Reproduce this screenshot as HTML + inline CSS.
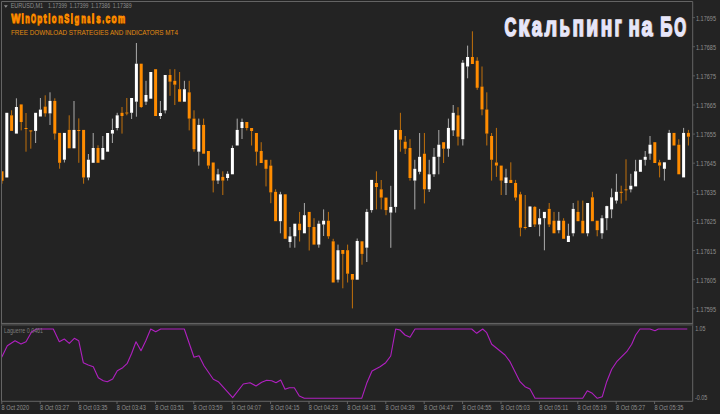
<!DOCTYPE html>
<html><head><meta charset="utf-8">
<style>
html,body{margin:0;padding:0;background:#232323;width:720px;height:414px;overflow:hidden}
svg{display:block}
text{font-family:"Liberation Sans",sans-serif}
.ax{font-size:6.8px;fill:#8e8e8e}
</style></head><body>
<svg width="720" height="414" viewBox="0 0 720 414">
<rect width="720" height="414" fill="#232323"/>
<clipPath id="cc"><rect x="2" y="2" width="690" height="320"/></clipPath>
<g clip-path="url(#cc)">
<rect x="1.50" y="180.80" width="1" height="2.90" fill="#c0700c"/>
<rect x="11.10" y="110.30" width="1" height="5.00" fill="#c0700c"/>
<rect x="15.90" y="98.30" width="1" height="8.70" fill="#ababab"/>
<rect x="20.70" y="122.00" width="1" height="8.40" fill="#c0700c"/>
<rect x="25.50" y="113.00" width="1" height="15.00" fill="#c0700c"/>
<rect x="25.50" y="128.50" width="1" height="23.20" fill="#c0700c"/>
<rect x="30.30" y="131.00" width="1" height="17.70" fill="#c0700c"/>
<rect x="35.10" y="130.90" width="1" height="12.10" fill="#ababab"/>
<rect x="39.90" y="98.00" width="1" height="11.60" fill="#ababab"/>
<rect x="44.70" y="95.30" width="1" height="11.30" fill="#c0700c"/>
<rect x="44.70" y="113.40" width="1" height="3.30" fill="#c0700c"/>
<rect x="49.50" y="92.30" width="1" height="8.60" fill="#ababab"/>
<rect x="49.50" y="113.40" width="1" height="11.60" fill="#ababab"/>
<rect x="54.30" y="98.30" width="1" height="2.60" fill="#c0700c"/>
<rect x="54.30" y="133.60" width="1" height="6.10" fill="#c0700c"/>
<rect x="59.10" y="162.80" width="1" height="5.90" fill="#c0700c"/>
<rect x="63.90" y="159.70" width="1" height="2.80" fill="#ababab"/>
<rect x="68.70" y="115.30" width="1" height="14.60" fill="#c0700c"/>
<rect x="73.50" y="101.00" width="1" height="28.90" fill="#ababab"/>
<rect x="78.30" y="118.40" width="1" height="11.60" fill="#c0700c"/>
<rect x="78.30" y="130.50" width="1" height="32.30" fill="#c0700c"/>
<rect x="83.10" y="177.50" width="1" height="6.20" fill="#c0700c"/>
<rect x="87.90" y="154.00" width="1" height="5.70" fill="#ababab"/>
<rect x="87.90" y="177.50" width="1" height="2.80" fill="#ababab"/>
<rect x="92.70" y="133.00" width="1" height="15.00" fill="#ababab"/>
<rect x="97.50" y="145.30" width="1" height="2.70" fill="#c0700c"/>
<rect x="102.30" y="136.00" width="1" height="12.00" fill="#ababab"/>
<rect x="111.90" y="118.60" width="1" height="11.40" fill="#ababab"/>
<rect x="111.90" y="133.60" width="1" height="9.40" fill="#ababab"/>
<rect x="116.70" y="112.80" width="1" height="2.50" fill="#ababab"/>
<rect x="116.70" y="128.00" width="1" height="2.40" fill="#ababab"/>
<rect x="121.50" y="107.00" width="1" height="5.80" fill="#c0700c"/>
<rect x="121.50" y="116.00" width="1" height="17.60" fill="#c0700c"/>
<rect x="126.30" y="98.00" width="1" height="14.50" fill="#c0700c"/>
<rect x="126.30" y="113.50" width="1" height="1.80" fill="#c0700c"/>
<rect x="131.10" y="112.80" width="1" height="6.20" fill="#ababab"/>
<rect x="135.90" y="43.00" width="1" height="20.70" fill="#ababab"/>
<rect x="135.90" y="101.70" width="1" height="15.00" fill="#ababab"/>
<rect x="140.70" y="107.00" width="1" height="1.00" fill="#c0700c"/>
<rect x="145.50" y="80.80" width="1" height="14.20" fill="#ababab"/>
<rect x="145.50" y="101.70" width="1" height="3.30" fill="#ababab"/>
<rect x="159.90" y="101.00" width="1" height="12.00" fill="#ababab"/>
<rect x="159.90" y="116.00" width="1" height="3.00" fill="#ababab"/>
<rect x="164.70" y="110.40" width="1" height="3.00" fill="#ababab"/>
<rect x="169.50" y="69.20" width="1" height="5.80" fill="#c0700c"/>
<rect x="169.50" y="81.70" width="1" height="14.10" fill="#c0700c"/>
<rect x="174.30" y="69.20" width="1" height="11.60" fill="#c0700c"/>
<rect x="174.30" y="84.70" width="1" height="20.30" fill="#c0700c"/>
<rect x="179.10" y="72.00" width="1" height="17.20" fill="#c0700c"/>
<rect x="183.90" y="80.80" width="1" height="8.40" fill="#ababab"/>
<rect x="188.70" y="80.80" width="1" height="11.50" fill="#c0700c"/>
<rect x="188.70" y="118.60" width="1" height="11.80" fill="#c0700c"/>
<rect x="193.50" y="110.30" width="1" height="8.30" fill="#c0700c"/>
<rect x="193.50" y="149.20" width="1" height="2.50" fill="#c0700c"/>
<rect x="198.30" y="118.60" width="1" height="6.30" fill="#ababab"/>
<rect x="198.30" y="151.70" width="1" height="13.90" fill="#ababab"/>
<rect x="203.10" y="118.60" width="1" height="6.30" fill="#c0700c"/>
<rect x="207.90" y="165.60" width="1" height="3.20" fill="#c0700c"/>
<rect x="212.70" y="180.60" width="1" height="11.80" fill="#c0700c"/>
<rect x="217.50" y="168.80" width="1" height="5.50" fill="#ababab"/>
<rect x="217.50" y="180.60" width="1" height="3.40" fill="#ababab"/>
<rect x="222.30" y="171.30" width="1" height="5.60" fill="#c0700c"/>
<rect x="222.30" y="180.60" width="1" height="14.40" fill="#c0700c"/>
<rect x="227.10" y="171.30" width="1" height="2.50" fill="#ababab"/>
<rect x="227.10" y="178.00" width="1" height="2.60" fill="#ababab"/>
<rect x="231.90" y="145.50" width="1" height="2.50" fill="#ababab"/>
<rect x="236.70" y="118.60" width="1" height="11.30" fill="#ababab"/>
<rect x="241.50" y="118.60" width="1" height="3.40" fill="#ababab"/>
<rect x="241.50" y="128.00" width="1" height="11.00" fill="#ababab"/>
<rect x="246.30" y="128.00" width="1" height="2.40" fill="#c0700c"/>
<rect x="251.10" y="131.00" width="1" height="14.50" fill="#c0700c"/>
<rect x="255.90" y="151.70" width="1" height="13.90" fill="#c0700c"/>
<rect x="260.70" y="142.20" width="1" height="8.80" fill="#c0700c"/>
<rect x="265.50" y="168.80" width="1" height="17.60" fill="#c0700c"/>
<rect x="270.30" y="159.80" width="1" height="5.80" fill="#c0700c"/>
<rect x="270.30" y="192.40" width="1" height="10.80" fill="#c0700c"/>
<rect x="275.10" y="189.30" width="1" height="2.50" fill="#c0700c"/>
<rect x="279.90" y="191.80" width="1" height="2.50" fill="#ababab"/>
<rect x="279.90" y="221.20" width="1" height="12.10" fill="#ababab"/>
<rect x="289.50" y="227.00" width="1" height="9.30" fill="#ababab"/>
<rect x="289.50" y="242.00" width="1" height="5.70" fill="#ababab"/>
<rect x="294.30" y="236.30" width="1" height="11.40" fill="#ababab"/>
<rect x="299.10" y="211.90" width="1" height="11.80" fill="#c0700c"/>
<rect x="299.10" y="230.20" width="1" height="11.30" fill="#c0700c"/>
<rect x="303.90" y="203.00" width="1" height="12.20" fill="#ababab"/>
<rect x="308.70" y="227.00" width="1" height="23.50" fill="#c0700c"/>
<rect x="313.50" y="218.20" width="1" height="8.80" fill="#c0700c"/>
<rect x="318.30" y="220.70" width="1" height="3.00" fill="#ababab"/>
<rect x="318.30" y="244.60" width="1" height="3.10" fill="#ababab"/>
<rect x="323.10" y="209.40" width="1" height="11.30" fill="#ababab"/>
<rect x="323.10" y="224.50" width="1" height="11.50" fill="#ababab"/>
<rect x="327.90" y="211.90" width="1" height="8.80" fill="#c0700c"/>
<rect x="327.90" y="236.30" width="1" height="2.50" fill="#c0700c"/>
<rect x="332.70" y="238.80" width="1" height="2.50" fill="#c0700c"/>
<rect x="337.50" y="244.60" width="1" height="5.60" fill="#ababab"/>
<rect x="337.50" y="279.70" width="1" height="2.80" fill="#ababab"/>
<rect x="342.30" y="253.90" width="1" height="34.40" fill="#c0700c"/>
<rect x="347.10" y="244.60" width="1" height="5.60" fill="#c0700c"/>
<rect x="347.10" y="273.70" width="1" height="8.80" fill="#c0700c"/>
<rect x="351.90" y="279.70" width="1" height="28.70" fill="#c0700c"/>
<rect x="356.70" y="238.50" width="1" height="2.50" fill="#ababab"/>
<rect x="361.50" y="253.90" width="1" height="10.80" fill="#c0700c"/>
<rect x="366.30" y="208.90" width="1" height="3.00" fill="#ababab"/>
<rect x="366.30" y="247.70" width="1" height="14.30" fill="#ababab"/>
<rect x="371.10" y="210.10" width="1" height="2.50" fill="#ababab"/>
<rect x="375.90" y="171.30" width="1" height="11.70" fill="#c0700c"/>
<rect x="375.90" y="187.00" width="1" height="22.40" fill="#c0700c"/>
<rect x="380.70" y="180.00" width="1" height="9.30" fill="#c0700c"/>
<rect x="380.70" y="197.60" width="1" height="11.80" fill="#c0700c"/>
<rect x="385.50" y="210.10" width="1" height="5.10" fill="#c0700c"/>
<rect x="390.30" y="185.80" width="1" height="21.10" fill="#ababab"/>
<rect x="390.30" y="212.60" width="1" height="35.20" fill="#ababab"/>
<rect x="395.10" y="206.90" width="1" height="5.70" fill="#ababab"/>
<rect x="399.90" y="112.80" width="1" height="17.20" fill="#c0700c"/>
<rect x="399.90" y="139.70" width="1" height="12.00" fill="#c0700c"/>
<rect x="404.70" y="136.00" width="1" height="5.70" fill="#c0700c"/>
<rect x="404.70" y="148.70" width="1" height="5.30" fill="#c0700c"/>
<rect x="409.50" y="139.20" width="1" height="8.80" fill="#c0700c"/>
<rect x="409.50" y="178.00" width="1" height="2.60" fill="#c0700c"/>
<rect x="414.30" y="159.80" width="1" height="9.00" fill="#ababab"/>
<rect x="414.30" y="180.60" width="1" height="28.80" fill="#ababab"/>
<rect x="419.10" y="133.00" width="1" height="23.80" fill="#ababab"/>
<rect x="419.10" y="171.80" width="1" height="2.50" fill="#ababab"/>
<rect x="423.90" y="133.00" width="1" height="20.70" fill="#c0700c"/>
<rect x="423.90" y="189.30" width="1" height="14.10" fill="#c0700c"/>
<rect x="428.70" y="159.80" width="1" height="14.50" fill="#ababab"/>
<rect x="428.70" y="189.30" width="1" height="2.70" fill="#ababab"/>
<rect x="433.50" y="148.00" width="1" height="8.80" fill="#ababab"/>
<rect x="433.50" y="174.30" width="1" height="2.60" fill="#ababab"/>
<rect x="438.30" y="130.00" width="1" height="14.70" fill="#ababab"/>
<rect x="438.30" y="156.80" width="1" height="17.50" fill="#ababab"/>
<rect x="443.10" y="148.70" width="1" height="14.30" fill="#c0700c"/>
<rect x="447.90" y="118.60" width="1" height="9.30" fill="#ababab"/>
<rect x="447.90" y="148.70" width="1" height="8.10" fill="#ababab"/>
<rect x="452.70" y="105.00" width="1" height="7.80" fill="#ababab"/>
<rect x="452.70" y="130.40" width="1" height="5.60" fill="#ababab"/>
<rect x="457.50" y="107.20" width="1" height="8.10" fill="#c0700c"/>
<rect x="457.50" y="136.70" width="1" height="8.80" fill="#c0700c"/>
<rect x="462.30" y="60.00" width="1" height="2.70" fill="#ababab"/>
<rect x="462.30" y="139.20" width="1" height="6.30" fill="#ababab"/>
<rect x="467.10" y="45.60" width="1" height="11.40" fill="#ababab"/>
<rect x="467.10" y="66.50" width="1" height="11.80" fill="#ababab"/>
<rect x="471.90" y="31.30" width="1" height="25.70" fill="#c0700c"/>
<rect x="476.70" y="57.20" width="1" height="3.50" fill="#c0700c"/>
<rect x="476.70" y="87.80" width="1" height="2.00" fill="#c0700c"/>
<rect x="481.50" y="66.50" width="1" height="20.10" fill="#c0700c"/>
<rect x="481.50" y="109.50" width="1" height="5.80" fill="#c0700c"/>
<rect x="486.30" y="92.30" width="1" height="17.20" fill="#c0700c"/>
<rect x="486.30" y="133.60" width="1" height="11.90" fill="#c0700c"/>
<rect x="491.10" y="133.00" width="1" height="3.00" fill="#c0700c"/>
<rect x="491.10" y="159.80" width="1" height="20.80" fill="#c0700c"/>
<rect x="495.90" y="127.90" width="1" height="34.60" fill="#c0700c"/>
<rect x="495.90" y="165.60" width="1" height="11.30" fill="#c0700c"/>
<rect x="500.70" y="180.60" width="1" height="14.40" fill="#c0700c"/>
<rect x="505.50" y="168.80" width="1" height="8.60" fill="#ababab"/>
<rect x="505.50" y="183.00" width="1" height="12.00" fill="#ababab"/>
<rect x="510.30" y="162.30" width="1" height="17.60" fill="#c0700c"/>
<rect x="515.10" y="179.90" width="1" height="3.10" fill="#c0700c"/>
<rect x="515.10" y="197.60" width="1" height="3.00" fill="#c0700c"/>
<rect x="519.90" y="191.80" width="1" height="2.50" fill="#c0700c"/>
<rect x="519.90" y="227.70" width="1" height="8.60" fill="#c0700c"/>
<rect x="524.70" y="195.00" width="1" height="32.00" fill="#c0700c"/>
<rect x="524.70" y="227.50" width="1" height="2.00" fill="#c0700c"/>
<rect x="529.50" y="206.00" width="1" height="0.50" fill="#ababab"/>
<rect x="534.30" y="206.00" width="1" height="0.90" fill="#c0700c"/>
<rect x="534.30" y="224.50" width="1" height="2.50" fill="#c0700c"/>
<rect x="539.10" y="208.90" width="1" height="9.30" fill="#ababab"/>
<rect x="539.10" y="224.50" width="1" height="11.80" fill="#ababab"/>
<rect x="543.90" y="218.20" width="1" height="32.10" fill="#ababab"/>
<rect x="548.70" y="203.00" width="1" height="5.90" fill="#c0700c"/>
<rect x="548.70" y="224.50" width="1" height="2.50" fill="#c0700c"/>
<rect x="553.50" y="211.90" width="1" height="8.80" fill="#c0700c"/>
<rect x="558.30" y="211.90" width="1" height="8.80" fill="#ababab"/>
<rect x="558.30" y="230.20" width="1" height="3.10" fill="#ababab"/>
<rect x="563.10" y="218.20" width="1" height="2.50" fill="#c0700c"/>
<rect x="567.90" y="223.70" width="1" height="12.10" fill="#ababab"/>
<rect x="572.70" y="203.00" width="1" height="5.90" fill="#ababab"/>
<rect x="572.70" y="233.30" width="1" height="3.00" fill="#ababab"/>
<rect x="577.50" y="200.60" width="1" height="11.30" fill="#c0700c"/>
<rect x="582.30" y="200.60" width="1" height="20.10" fill="#c0700c"/>
<rect x="587.10" y="233.30" width="1" height="3.00" fill="#ababab"/>
<rect x="591.90" y="191.80" width="1" height="5.50" fill="#c0700c"/>
<rect x="596.70" y="230.20" width="1" height="6.10" fill="#c0700c"/>
<rect x="601.50" y="215.20" width="1" height="3.00" fill="#ababab"/>
<rect x="601.50" y="233.30" width="1" height="5.50" fill="#ababab"/>
<rect x="606.30" y="205.70" width="1" height="0.40" fill="#ababab"/>
<rect x="606.30" y="218.20" width="1" height="12.00" fill="#ababab"/>
<rect x="611.10" y="188.50" width="1" height="8.80" fill="#ababab"/>
<rect x="611.10" y="209.40" width="1" height="8.80" fill="#ababab"/>
<rect x="615.90" y="173.80" width="1" height="18.00" fill="#ababab"/>
<rect x="615.90" y="200.60" width="1" height="3.00" fill="#ababab"/>
<rect x="620.70" y="185.70" width="1" height="6.10" fill="#c0700c"/>
<rect x="620.70" y="192.40" width="1" height="11.20" fill="#c0700c"/>
<rect x="625.50" y="159.30" width="1" height="30.00" fill="#c0700c"/>
<rect x="625.50" y="189.80" width="1" height="10.80" fill="#c0700c"/>
<rect x="630.30" y="173.80" width="1" height="11.90" fill="#ababab"/>
<rect x="630.30" y="189.40" width="1" height="3.00" fill="#ababab"/>
<rect x="635.10" y="159.80" width="1" height="11.50" fill="#ababab"/>
<rect x="644.70" y="151.00" width="1" height="5.80" fill="#ababab"/>
<rect x="644.70" y="159.80" width="1" height="5.80" fill="#ababab"/>
<rect x="649.50" y="136.00" width="1" height="8.70" fill="#ababab"/>
<rect x="649.50" y="153.70" width="1" height="6.10" fill="#ababab"/>
<rect x="659.10" y="159.80" width="1" height="2.50" fill="#c0700c"/>
<rect x="659.10" y="165.60" width="1" height="11.80" fill="#c0700c"/>
<rect x="663.90" y="168.80" width="1" height="11.80" fill="#ababab"/>
<rect x="668.70" y="129.90" width="1" height="3.00" fill="#ababab"/>
<rect x="678.30" y="139.20" width="1" height="5.50" fill="#c0700c"/>
<rect x="683.10" y="127.90" width="1" height="5.00" fill="#ababab"/>
<rect x="687.90" y="129.90" width="1" height="3.00" fill="#c0700c"/>
<rect x="687.90" y="136.70" width="1" height="8.80" fill="#c0700c"/>
<rect x="0.50" y="171.30" width="3.0" height="9.50" fill="#ff8c00"/>
<rect x="5.30" y="112.80" width="3.0" height="64.70" fill="#ffffff"/>
<rect x="10.10" y="115.30" width="3.0" height="15.60" fill="#ff8c00"/>
<rect x="14.90" y="107.00" width="3.0" height="26.60" fill="#ffffff"/>
<rect x="19.70" y="104.40" width="3.0" height="17.60" fill="#ff8c00"/>
<rect x="24.50" y="128.00" width="3.0" height="1.00" fill="#ff8c00"/>
<rect x="29.30" y="130.40" width="3.0" height="1.00" fill="#ff8c00"/>
<rect x="34.10" y="112.80" width="3.0" height="18.10" fill="#ffffff"/>
<rect x="38.90" y="109.60" width="3.0" height="6.90" fill="#ffffff"/>
<rect x="43.70" y="106.60" width="3.0" height="6.80" fill="#ff8c00"/>
<rect x="48.50" y="100.90" width="3.0" height="12.50" fill="#ffffff"/>
<rect x="53.30" y="100.90" width="3.0" height="32.70" fill="#ff8c00"/>
<rect x="58.10" y="132.90" width="3.0" height="29.90" fill="#ff8c00"/>
<rect x="62.90" y="132.90" width="3.0" height="26.80" fill="#ffffff"/>
<rect x="67.70" y="129.90" width="3.0" height="18.40" fill="#ff8c00"/>
<rect x="72.50" y="129.90" width="3.0" height="18.40" fill="#ffffff"/>
<rect x="77.30" y="130.00" width="3.0" height="1.00" fill="#ff8c00"/>
<rect x="82.10" y="129.90" width="3.0" height="47.60" fill="#ff8c00"/>
<rect x="86.90" y="159.70" width="3.0" height="17.80" fill="#ffffff"/>
<rect x="91.70" y="148.00" width="3.0" height="14.80" fill="#ffffff"/>
<rect x="96.50" y="148.00" width="3.0" height="14.80" fill="#ff8c00"/>
<rect x="101.30" y="148.00" width="3.0" height="11.70" fill="#ffffff"/>
<rect x="106.10" y="133.00" width="3.0" height="18.70" fill="#ffffff"/>
<rect x="110.90" y="130.00" width="3.0" height="3.60" fill="#ffffff"/>
<rect x="115.70" y="115.30" width="3.0" height="12.70" fill="#ffffff"/>
<rect x="120.50" y="112.80" width="3.0" height="3.20" fill="#ff8c00"/>
<rect x="125.30" y="112.50" width="3.0" height="1.00" fill="#ff8c00"/>
<rect x="130.10" y="98.00" width="3.0" height="14.80" fill="#ffffff"/>
<rect x="134.90" y="63.70" width="3.0" height="38.00" fill="#ffffff"/>
<rect x="139.70" y="63.70" width="3.0" height="43.30" fill="#ff8c00"/>
<rect x="144.50" y="95.00" width="3.0" height="6.70" fill="#ffffff"/>
<rect x="149.30" y="72.00" width="3.0" height="26.70" fill="#ffffff"/>
<rect x="154.10" y="69.20" width="3.0" height="46.80" fill="#ff8c00"/>
<rect x="158.90" y="113.00" width="3.0" height="3.00" fill="#ffffff"/>
<rect x="163.70" y="75.00" width="3.0" height="35.40" fill="#ffffff"/>
<rect x="168.50" y="75.00" width="3.0" height="6.70" fill="#ff8c00"/>
<rect x="173.30" y="80.80" width="3.0" height="3.90" fill="#ff8c00"/>
<rect x="178.10" y="89.20" width="3.0" height="12.50" fill="#ff8c00"/>
<rect x="182.90" y="89.20" width="3.0" height="12.50" fill="#ffffff"/>
<rect x="187.70" y="92.30" width="3.0" height="26.30" fill="#ff8c00"/>
<rect x="192.50" y="118.60" width="3.0" height="30.60" fill="#ff8c00"/>
<rect x="197.30" y="124.90" width="3.0" height="26.80" fill="#ffffff"/>
<rect x="202.10" y="124.90" width="3.0" height="28.80" fill="#ff8c00"/>
<rect x="206.90" y="151.00" width="3.0" height="14.60" fill="#ff8c00"/>
<rect x="211.70" y="162.50" width="3.0" height="18.10" fill="#ff8c00"/>
<rect x="216.50" y="174.30" width="3.0" height="6.30" fill="#ffffff"/>
<rect x="221.30" y="176.90" width="3.0" height="3.70" fill="#ff8c00"/>
<rect x="226.10" y="173.80" width="3.0" height="4.20" fill="#ffffff"/>
<rect x="230.90" y="148.00" width="3.0" height="26.30" fill="#ffffff"/>
<rect x="235.70" y="129.90" width="3.0" height="15.60" fill="#ffffff"/>
<rect x="240.50" y="122.00" width="3.0" height="6.00" fill="#ffffff"/>
<rect x="245.30" y="122.00" width="3.0" height="6.00" fill="#ff8c00"/>
<rect x="250.10" y="128.00" width="3.0" height="3.00" fill="#ff8c00"/>
<rect x="254.90" y="133.00" width="3.0" height="18.70" fill="#ff8c00"/>
<rect x="259.70" y="151.00" width="3.0" height="12.00" fill="#ff8c00"/>
<rect x="264.50" y="159.80" width="3.0" height="9.00" fill="#ff8c00"/>
<rect x="269.30" y="165.60" width="3.0" height="26.80" fill="#ff8c00"/>
<rect x="274.10" y="191.80" width="3.0" height="29.40" fill="#ff8c00"/>
<rect x="278.90" y="194.30" width="3.0" height="26.90" fill="#ffffff"/>
<rect x="283.70" y="194.30" width="3.0" height="44.50" fill="#ff8c00"/>
<rect x="288.50" y="236.30" width="3.0" height="5.70" fill="#ffffff"/>
<rect x="293.30" y="223.70" width="3.0" height="12.60" fill="#ffffff"/>
<rect x="298.10" y="223.70" width="3.0" height="6.50" fill="#ff8c00"/>
<rect x="302.90" y="215.20" width="3.0" height="18.10" fill="#ffffff"/>
<rect x="307.70" y="211.90" width="3.0" height="15.10" fill="#ff8c00"/>
<rect x="312.50" y="227.00" width="3.0" height="17.60" fill="#ff8c00"/>
<rect x="317.30" y="223.70" width="3.0" height="20.90" fill="#ffffff"/>
<rect x="322.10" y="220.70" width="3.0" height="3.80" fill="#ffffff"/>
<rect x="326.90" y="220.70" width="3.0" height="15.60" fill="#ff8c00"/>
<rect x="331.70" y="241.30" width="3.0" height="41.20" fill="#ff8c00"/>
<rect x="336.50" y="250.20" width="3.0" height="29.50" fill="#ffffff"/>
<rect x="341.30" y="250.00" width="3.0" height="3.90" fill="#ff8c00"/>
<rect x="346.10" y="250.20" width="3.0" height="23.50" fill="#ff8c00"/>
<rect x="350.90" y="274.00" width="3.0" height="5.70" fill="#ff8c00"/>
<rect x="355.70" y="241.00" width="3.0" height="38.70" fill="#ffffff"/>
<rect x="360.50" y="241.30" width="3.0" height="12.60" fill="#ff8c00"/>
<rect x="365.30" y="211.90" width="3.0" height="35.80" fill="#ffffff"/>
<rect x="370.10" y="179.90" width="3.0" height="30.20" fill="#ffffff"/>
<rect x="374.90" y="183.00" width="3.0" height="4.00" fill="#ff8c00"/>
<rect x="379.70" y="189.30" width="3.0" height="8.30" fill="#ff8c00"/>
<rect x="384.50" y="197.60" width="3.0" height="12.50" fill="#ff8c00"/>
<rect x="389.30" y="206.90" width="3.0" height="5.70" fill="#ffffff"/>
<rect x="394.10" y="129.90" width="3.0" height="77.00" fill="#ffffff"/>
<rect x="398.90" y="130.00" width="3.0" height="9.70" fill="#ff8c00"/>
<rect x="403.70" y="141.70" width="3.0" height="7.00" fill="#ff8c00"/>
<rect x="408.50" y="148.00" width="3.0" height="30.00" fill="#ff8c00"/>
<rect x="413.30" y="168.80" width="3.0" height="11.80" fill="#ffffff"/>
<rect x="418.10" y="156.80" width="3.0" height="15.00" fill="#ffffff"/>
<rect x="422.90" y="153.70" width="3.0" height="35.60" fill="#ff8c00"/>
<rect x="427.70" y="174.30" width="3.0" height="15.00" fill="#ffffff"/>
<rect x="432.50" y="156.80" width="3.0" height="17.50" fill="#ffffff"/>
<rect x="437.30" y="144.70" width="3.0" height="12.10" fill="#ffffff"/>
<rect x="442.10" y="142.20" width="3.0" height="6.50" fill="#ff8c00"/>
<rect x="446.90" y="127.90" width="3.0" height="20.80" fill="#ffffff"/>
<rect x="451.70" y="112.80" width="3.0" height="17.60" fill="#ffffff"/>
<rect x="456.50" y="115.30" width="3.0" height="21.40" fill="#ff8c00"/>
<rect x="461.30" y="62.70" width="3.0" height="76.50" fill="#ffffff"/>
<rect x="466.10" y="57.00" width="3.0" height="9.50" fill="#ffffff"/>
<rect x="470.90" y="57.00" width="3.0" height="7.00" fill="#ff8c00"/>
<rect x="475.70" y="60.70" width="3.0" height="27.10" fill="#ff8c00"/>
<rect x="480.50" y="86.60" width="3.0" height="22.90" fill="#ff8c00"/>
<rect x="485.30" y="109.50" width="3.0" height="24.10" fill="#ff8c00"/>
<rect x="490.10" y="136.00" width="3.0" height="23.80" fill="#ff8c00"/>
<rect x="494.90" y="162.50" width="3.0" height="3.10" fill="#ff8c00"/>
<rect x="499.70" y="165.60" width="3.0" height="15.00" fill="#ff8c00"/>
<rect x="504.50" y="177.40" width="3.0" height="5.60" fill="#ffffff"/>
<rect x="509.30" y="179.90" width="3.0" height="3.10" fill="#ff8c00"/>
<rect x="514.10" y="183.00" width="3.0" height="14.60" fill="#ff8c00"/>
<rect x="518.90" y="194.30" width="3.0" height="33.40" fill="#ff8c00"/>
<rect x="523.70" y="227.00" width="3.0" height="1.00" fill="#ff8c00"/>
<rect x="528.50" y="206.50" width="3.0" height="20.50" fill="#ffffff"/>
<rect x="533.30" y="206.90" width="3.0" height="17.60" fill="#ff8c00"/>
<rect x="538.10" y="218.20" width="3.0" height="6.30" fill="#ffffff"/>
<rect x="542.90" y="211.90" width="3.0" height="6.30" fill="#ffffff"/>
<rect x="547.70" y="208.90" width="3.0" height="15.60" fill="#ff8c00"/>
<rect x="552.50" y="220.70" width="3.0" height="12.60" fill="#ff8c00"/>
<rect x="557.30" y="220.70" width="3.0" height="9.50" fill="#ffffff"/>
<rect x="562.10" y="220.70" width="3.0" height="18.10" fill="#ff8c00"/>
<rect x="566.90" y="235.80" width="3.0" height="6.20" fill="#ffffff"/>
<rect x="571.70" y="208.90" width="3.0" height="24.40" fill="#ffffff"/>
<rect x="576.50" y="211.90" width="3.0" height="9.30" fill="#ff8c00"/>
<rect x="581.30" y="220.70" width="3.0" height="12.60" fill="#ff8c00"/>
<rect x="586.10" y="203.00" width="3.0" height="30.30" fill="#ffffff"/>
<rect x="590.90" y="197.30" width="3.0" height="23.90" fill="#ff8c00"/>
<rect x="595.70" y="220.70" width="3.0" height="9.50" fill="#ff8c00"/>
<rect x="600.50" y="218.20" width="3.0" height="15.10" fill="#ffffff"/>
<rect x="605.30" y="206.10" width="3.0" height="12.10" fill="#ffffff"/>
<rect x="610.10" y="197.30" width="3.0" height="12.10" fill="#ffffff"/>
<rect x="614.90" y="191.80" width="3.0" height="8.80" fill="#ffffff"/>
<rect x="619.70" y="191.80" width="3.0" height="1.00" fill="#ff8c00"/>
<rect x="624.50" y="189.30" width="3.0" height="1.00" fill="#ff8c00"/>
<rect x="629.30" y="185.70" width="3.0" height="3.70" fill="#ffffff"/>
<rect x="634.10" y="171.30" width="3.0" height="15.10" fill="#ffffff"/>
<rect x="638.90" y="159.80" width="3.0" height="12.00" fill="#ffffff"/>
<rect x="643.70" y="156.80" width="3.0" height="3.00" fill="#ffffff"/>
<rect x="648.50" y="144.70" width="3.0" height="9.00" fill="#ffffff"/>
<rect x="653.30" y="142.20" width="3.0" height="20.80" fill="#ff8c00"/>
<rect x="658.10" y="162.30" width="3.0" height="3.30" fill="#ff8c00"/>
<rect x="662.90" y="162.30" width="3.0" height="6.50" fill="#ffffff"/>
<rect x="667.70" y="132.90" width="3.0" height="26.90" fill="#ffffff"/>
<rect x="672.50" y="132.90" width="3.0" height="12.60" fill="#ff8c00"/>
<rect x="677.30" y="144.70" width="3.0" height="29.60" fill="#ff8c00"/>
<rect x="682.10" y="132.90" width="3.0" height="44.50" fill="#ffffff"/>
<rect x="686.90" y="132.90" width="3.0" height="3.80" fill="#ff8c00"/>
</g>
<polyline points="1.7,357.3 7.3,345.7 15.0,340.7 21.0,344.0 26.0,341.7 31.7,331.7 36.7,329.0 53.3,329.0 59.3,341.7 64.3,339.0 69.3,343.3 74.3,338.3 78.7,340.7 83.3,362.7 88.3,365.0 93.3,366.7 98.3,377.7 103.3,380.7 107.3,381.7 112.7,379.0 117.3,370.7 122.7,367.7 127.3,363.3 131.7,353.3 136.0,341.7 141.0,350.7 145.7,341.0 150.7,329.0 155.7,331.7 160.7,329.0 184.3,329.0 194.0,357.3 199.0,355.7 204.0,365.7 213.3,379.3 218.3,381.7 232.7,397.7 243.3,384.0 250.0,382.7 256.0,386.0 261.7,382.3 266.7,380.3 271.7,380.7 276.0,382.7 280.7,380.0 285.0,389.3 289.3,387.7 294.3,387.7 299.3,396.0 304.3,398.3 361.7,398.3 366.7,383.3 372.0,371.0 380.0,366.7 385.7,362.7 390.7,356.0 395.7,329.0 400.0,330.0 405.0,335.0 410.0,337.3 415.0,329.0 471.7,329.0 476.7,333.3 482.7,329.0 486.7,332.7 491.7,344.3 496.7,348.3 505.0,355.0 510.0,361.7 515.0,371.7 520.0,381.7 525.0,386.7 530.0,389.0 535.0,398.3 582.7,398.3 587.3,390.7 592.3,393.3 597.3,398.3 602.3,396.7 606.7,381.7 611.7,369.3 616.7,361.7 621.7,356.7 626.7,351.7 631.7,344.3 635.7,335.0 640.0,329.0 650.0,329.0 655.0,330.7 658.3,329.0 687.3,329.0" fill="none" stroke="#b020c0" stroke-width="1.1" stroke-linejoin="round"/>
<g fill="none" stroke="#646464" stroke-width="1">
<line x1="1.5" y1="1.5" x2="692.7" y2="1.5"/>
<line x1="1.5" y1="1.5" x2="1.5" y2="401.3"/>
<line x1="692.7" y1="1.5" x2="692.7" y2="401.3"/>
<line x1="1.5" y1="401.3" x2="692.7" y2="401.3"/>
</g>
<rect x="1" y="322.9" width="692" height="1.4" fill="#626262"/><rect x="1" y="324.3" width="692" height="1.3" fill="#4a4a4a"/>
<line x1="692.5" y1="17.60" x2="695" y2="17.60" stroke="#646464" stroke-width="0.8"/><text x="696" y="20.60" class="ax" textLength="20" lengthAdjust="spacingAndGlyphs">1.17695</text><line x1="692.5" y1="46.72" x2="695" y2="46.72" stroke="#646464" stroke-width="0.8"/><text x="696" y="49.72" class="ax" textLength="20" lengthAdjust="spacingAndGlyphs">1.17685</text><line x1="692.5" y1="75.84" x2="695" y2="75.84" stroke="#646464" stroke-width="0.8"/><text x="696" y="78.84" class="ax" textLength="20" lengthAdjust="spacingAndGlyphs">1.17675</text><line x1="692.5" y1="104.96" x2="695" y2="104.96" stroke="#646464" stroke-width="0.8"/><text x="696" y="107.96" class="ax" textLength="20" lengthAdjust="spacingAndGlyphs">1.17665</text><line x1="692.5" y1="134.08" x2="695" y2="134.08" stroke="#646464" stroke-width="0.8"/><text x="696" y="137.08" class="ax" textLength="20" lengthAdjust="spacingAndGlyphs">1.17655</text><line x1="692.5" y1="163.20" x2="695" y2="163.20" stroke="#646464" stroke-width="0.8"/><text x="696" y="166.20" class="ax" textLength="20" lengthAdjust="spacingAndGlyphs">1.17645</text><line x1="692.5" y1="192.32" x2="695" y2="192.32" stroke="#646464" stroke-width="0.8"/><text x="696" y="195.32" class="ax" textLength="20" lengthAdjust="spacingAndGlyphs">1.17635</text><line x1="692.5" y1="221.44" x2="695" y2="221.44" stroke="#646464" stroke-width="0.8"/><text x="696" y="224.44" class="ax" textLength="20" lengthAdjust="spacingAndGlyphs">1.17625</text><line x1="692.5" y1="250.56" x2="695" y2="250.56" stroke="#646464" stroke-width="0.8"/><text x="696" y="253.56" class="ax" textLength="20" lengthAdjust="spacingAndGlyphs">1.17615</text><line x1="692.5" y1="279.68" x2="695" y2="279.68" stroke="#646464" stroke-width="0.8"/><text x="696" y="282.68" class="ax" textLength="20" lengthAdjust="spacingAndGlyphs">1.17605</text><line x1="692.5" y1="308.80" x2="695" y2="308.80" stroke="#646464" stroke-width="0.8"/><text x="696" y="311.80" class="ax" textLength="20" lengthAdjust="spacingAndGlyphs">1.17595</text>
<line x1="1.80" y1="401" x2="1.80" y2="404" stroke="#646464" stroke-width="1"/><text x="1.60" y="409.5" class="ax" textLength="27.5" lengthAdjust="spacingAndGlyphs">8 Oct 2020</text><line x1="40.20" y1="401" x2="40.20" y2="404" stroke="#646464" stroke-width="1"/><text x="40.00" y="409.5" class="ax" textLength="29" lengthAdjust="spacingAndGlyphs">8 Oct 03:27</text><line x1="78.60" y1="401" x2="78.60" y2="404" stroke="#646464" stroke-width="1"/><text x="78.40" y="409.5" class="ax" textLength="29" lengthAdjust="spacingAndGlyphs">8 Oct 03:35</text><line x1="117.00" y1="401" x2="117.00" y2="404" stroke="#646464" stroke-width="1"/><text x="116.80" y="409.5" class="ax" textLength="29" lengthAdjust="spacingAndGlyphs">8 Oct 03:43</text><line x1="155.40" y1="401" x2="155.40" y2="404" stroke="#646464" stroke-width="1"/><text x="155.20" y="409.5" class="ax" textLength="29" lengthAdjust="spacingAndGlyphs">8 Oct 03:51</text><line x1="193.80" y1="401" x2="193.80" y2="404" stroke="#646464" stroke-width="1"/><text x="193.60" y="409.5" class="ax" textLength="29" lengthAdjust="spacingAndGlyphs">8 Oct 03:59</text><line x1="232.20" y1="401" x2="232.20" y2="404" stroke="#646464" stroke-width="1"/><text x="232.00" y="409.5" class="ax" textLength="29" lengthAdjust="spacingAndGlyphs">8 Oct 04:07</text><line x1="270.60" y1="401" x2="270.60" y2="404" stroke="#646464" stroke-width="1"/><text x="270.40" y="409.5" class="ax" textLength="29" lengthAdjust="spacingAndGlyphs">8 Oct 04:15</text><line x1="309.00" y1="401" x2="309.00" y2="404" stroke="#646464" stroke-width="1"/><text x="308.80" y="409.5" class="ax" textLength="29" lengthAdjust="spacingAndGlyphs">8 Oct 04:23</text><line x1="347.40" y1="401" x2="347.40" y2="404" stroke="#646464" stroke-width="1"/><text x="347.20" y="409.5" class="ax" textLength="29" lengthAdjust="spacingAndGlyphs">8 Oct 04:31</text><line x1="385.80" y1="401" x2="385.80" y2="404" stroke="#646464" stroke-width="1"/><text x="385.60" y="409.5" class="ax" textLength="29" lengthAdjust="spacingAndGlyphs">8 Oct 04:39</text><line x1="424.20" y1="401" x2="424.20" y2="404" stroke="#646464" stroke-width="1"/><text x="424.00" y="409.5" class="ax" textLength="29" lengthAdjust="spacingAndGlyphs">8 Oct 04:47</text><line x1="462.60" y1="401" x2="462.60" y2="404" stroke="#646464" stroke-width="1"/><text x="462.40" y="409.5" class="ax" textLength="29" lengthAdjust="spacingAndGlyphs">8 Oct 04:55</text><line x1="501.00" y1="401" x2="501.00" y2="404" stroke="#646464" stroke-width="1"/><text x="500.80" y="409.5" class="ax" textLength="29" lengthAdjust="spacingAndGlyphs">8 Oct 05:03</text><line x1="539.40" y1="401" x2="539.40" y2="404" stroke="#646464" stroke-width="1"/><text x="539.20" y="409.5" class="ax" textLength="29" lengthAdjust="spacingAndGlyphs">8 Oct 05:11</text><line x1="577.80" y1="401" x2="577.80" y2="404" stroke="#646464" stroke-width="1"/><text x="577.60" y="409.5" class="ax" textLength="29" lengthAdjust="spacingAndGlyphs">8 Oct 05:19</text><line x1="616.20" y1="401" x2="616.20" y2="404" stroke="#646464" stroke-width="1"/><text x="616.00" y="409.5" class="ax" textLength="29" lengthAdjust="spacingAndGlyphs">8 Oct 05:27</text><line x1="654.60" y1="401" x2="654.60" y2="404" stroke="#646464" stroke-width="1"/><text x="654.40" y="409.5" class="ax" textLength="29" lengthAdjust="spacingAndGlyphs">8 Oct 05:35</text>
<text x="695.2" y="331" class="ax" textLength="10.3" lengthAdjust="spacingAndGlyphs">1.05</text>
<text x="695" y="400" class="ax" textLength="12.3" lengthAdjust="spacingAndGlyphs">-0.05</text>
<text x="4" y="332.8" class="ax" textLength="39" lengthAdjust="spacingAndGlyphs" style="fill:#7c7c7c">Laguerre 0.0461</text>
<path d="M3.9,5.2 L7.8,5.2 L5.85,7.7 Z" fill="#8e8e8e"/>
<text x="10.7" y="8.3" class="ax" style="font-size:6.7px" textLength="32.5" lengthAdjust="spacingAndGlyphs">EURUSD,M1</text>
<text x="48" y="8.3" class="ax" style="font-size:6.7px" textLength="19" lengthAdjust="spacingAndGlyphs">1.17399</text>
<text x="69.5" y="8.3" class="ax" style="font-size:6.7px" textLength="19" lengthAdjust="spacingAndGlyphs">1.17399</text>
<text x="91.1" y="8.3" class="ax" style="font-size:6.7px" textLength="19" lengthAdjust="spacingAndGlyphs">1.17386</text>
<text x="112.7" y="8.3" class="ax" style="font-size:6.7px" textLength="19" lengthAdjust="spacingAndGlyphs">1.17389</text>
<defs><clipPath id="wc"><rect x="0" y="0" width="200" height="25.6"/></clipPath></defs><g clip-path="url(#wc)"><text x="0" y="0" font-size="200" font-weight="bold" fill="#3a2400" stroke="#3a2400" stroke-width="20.18" transform="matrix(0.04841 0 0 0.06558 11.725 23.775)">W</text>
<text x="0" y="0" font-size="200" font-weight="bold" fill="#3a2400" stroke="#3a2400" stroke-width="35.44" transform="matrix(0.03036 0 0 0.06558 22.200 23.775)">i</text>
<text x="0" y="0" font-size="200" font-weight="bold" fill="#3a2400" stroke="#3a2400" stroke-width="22.54" transform="matrix(0.03648 0 0 0.06558 25.625 23.775)">n</text>
<text x="0" y="0" font-size="200" font-weight="bold" fill="#3a2400" stroke="#3a2400" stroke-width="23.64" transform="matrix(0.03173 0 0 0.06558 31.425 23.775)">O</text>
<text x="0" y="0" font-size="200" font-weight="bold" fill="#3a2400" stroke="#3a2400" stroke-width="21.67" transform="matrix(0.04057 0 0 0.06558 37.825 23.775)">p</text>
<text x="0" y="0" font-size="200" font-weight="bold" fill="#3a2400" stroke="#3a2400" stroke-width="20.43" transform="matrix(0.04701 0 0 0.06558 43.925 23.775)">t</text>
<text x="0" y="0" font-size="200" font-weight="bold" fill="#3a2400" stroke="#3a2400" stroke-width="36.11" transform="matrix(0.02857 0 0 0.06558 48.900 23.775)">i</text>
<text x="0" y="0" font-size="200" font-weight="bold" fill="#3a2400" stroke="#3a2400" stroke-width="22.18" transform="matrix(0.03811 0 0 0.06558 52.225 23.775)">o</text>
<text x="0" y="0" font-size="200" font-weight="bold" fill="#3a2400" stroke="#3a2400" stroke-width="22.18" transform="matrix(0.03811 0 0 0.06558 58.675 23.775)">n</text>
<text x="0" y="0" font-size="200" font-weight="bold" fill="#3a2400" stroke="#3a2400" stroke-width="22.37" transform="matrix(0.03722 0 0 0.06558 64.825 23.775)">S</text>
<text x="0" y="0" font-size="200" font-weight="bold" fill="#3a2400" stroke="#3a2400" stroke-width="36.11" transform="matrix(0.02857 0 0 0.06558 71.500 23.775)">i</text>
<text x="0" y="0" font-size="200" font-weight="bold" fill="#3a2400" stroke="#3a2400" stroke-width="22.18" transform="matrix(0.03811 0 0 0.06558 74.925 23.775)">g</text>
<text x="0" y="0" font-size="200" font-weight="bold" fill="#3a2400" stroke="#3a2400" stroke-width="22.18" transform="matrix(0.03811 0 0 0.06558 81.625 23.775)">n</text>
<text x="0" y="0" font-size="200" font-weight="bold" fill="#3a2400" stroke="#3a2400" stroke-width="25.09" transform="matrix(0.02611 0 0 0.06558 87.725 23.775)">a</text>
<text x="0" y="0" font-size="200" font-weight="bold" fill="#3a2400" stroke="#3a2400" stroke-width="33.57" transform="matrix(0.03571 0 0 0.06558 92.400 23.775)">l</text>
<text x="0" y="0" font-size="200" font-weight="bold" fill="#3a2400" stroke="#3a2400" stroke-width="21.95" transform="matrix(0.03919 0 0 0.06558 96.725 23.775)">s</text>
<text x="0" y="0" font-size="200" font-weight="bold" fill="#3a2400" stroke="#3a2400" stroke-width="31.53" transform="matrix(0.02321 0 0 0.06558 102.950 23.775)">.</text>
<text x="0" y="0" font-size="200" font-weight="bold" fill="#3a2400" stroke="#3a2400" stroke-width="21.40" transform="matrix(0.04189 0 0 0.06558 105.925 23.775)">c</text>
<text x="0" y="0" font-size="200" font-weight="bold" fill="#3a2400" stroke="#3a2400" stroke-width="21.50" transform="matrix(0.04139 0 0 0.06558 111.925 23.775)">o</text>
<text x="0" y="0" font-size="200" font-weight="bold" fill="#3a2400" stroke="#3a2400" stroke-width="21.87" transform="matrix(0.03961 0 0 0.06558 118.425 23.775)">m</text>
<text x="0" y="0" font-size="200" font-weight="bold" fill="#ff8c00" stroke="#ff8c00" stroke-width="14.91" transform="matrix(0.04841 0 0 0.06558 11.225 23.275)">W</text>
<text x="0" y="0" font-size="200" font-weight="bold" fill="#ff8c00" stroke="#ff8c00" stroke-width="29.19" transform="matrix(0.03036 0 0 0.06558 21.700 23.275)">i</text>
<text x="0" y="0" font-size="200" font-weight="bold" fill="#ff8c00" stroke="#ff8c00" stroke-width="16.66" transform="matrix(0.03648 0 0 0.06558 25.125 23.275)">n</text>
<text x="0" y="0" font-size="200" font-weight="bold" fill="#ff8c00" stroke="#ff8c00" stroke-width="17.47" transform="matrix(0.03173 0 0 0.06558 30.925 23.275)">O</text>
<text x="0" y="0" font-size="200" font-weight="bold" fill="#ff8c00" stroke="#ff8c00" stroke-width="16.01" transform="matrix(0.04057 0 0 0.06558 37.325 23.275)">p</text>
<text x="0" y="0" font-size="200" font-weight="bold" fill="#ff8c00" stroke="#ff8c00" stroke-width="15.10" transform="matrix(0.04701 0 0 0.06558 43.425 23.275)">t</text>
<text x="0" y="0" font-size="200" font-weight="bold" fill="#ff8c00" stroke="#ff8c00" stroke-width="29.74" transform="matrix(0.02857 0 0 0.06558 48.400 23.275)">i</text>
<text x="0" y="0" font-size="200" font-weight="bold" fill="#ff8c00" stroke="#ff8c00" stroke-width="16.39" transform="matrix(0.03811 0 0 0.06558 51.725 23.275)">o</text>
<text x="0" y="0" font-size="200" font-weight="bold" fill="#ff8c00" stroke="#ff8c00" stroke-width="16.39" transform="matrix(0.03811 0 0 0.06558 58.175 23.275)">n</text>
<text x="0" y="0" font-size="200" font-weight="bold" fill="#ff8c00" stroke="#ff8c00" stroke-width="16.54" transform="matrix(0.03722 0 0 0.06558 64.325 23.275)">S</text>
<text x="0" y="0" font-size="200" font-weight="bold" fill="#ff8c00" stroke="#ff8c00" stroke-width="29.74" transform="matrix(0.02857 0 0 0.06558 71.000 23.275)">i</text>
<text x="0" y="0" font-size="200" font-weight="bold" fill="#ff8c00" stroke="#ff8c00" stroke-width="16.39" transform="matrix(0.03811 0 0 0.06558 74.425 23.275)">g</text>
<text x="0" y="0" font-size="200" font-weight="bold" fill="#ff8c00" stroke="#ff8c00" stroke-width="16.39" transform="matrix(0.03811 0 0 0.06558 81.125 23.275)">n</text>
<text x="0" y="0" font-size="200" font-weight="bold" fill="#ff8c00" stroke="#ff8c00" stroke-width="18.54" transform="matrix(0.02611 0 0 0.06558 87.225 23.275)">a</text>
<text x="0" y="0" font-size="200" font-weight="bold" fill="#ff8c00" stroke="#ff8c00" stroke-width="27.64" transform="matrix(0.03571 0 0 0.06558 91.900 23.275)">l</text>
<text x="0" y="0" font-size="200" font-weight="bold" fill="#ff8c00" stroke="#ff8c00" stroke-width="16.23" transform="matrix(0.03919 0 0 0.06558 96.225 23.275)">s</text>
<text x="0" y="0" font-size="200" font-weight="bold" fill="#ff8c00" stroke="#ff8c00" stroke-width="24.78" transform="matrix(0.02321 0 0 0.06558 102.450 23.275)">.</text>
<text x="0" y="0" font-size="200" font-weight="bold" fill="#ff8c00" stroke="#ff8c00" stroke-width="15.82" transform="matrix(0.04189 0 0 0.06558 105.425 23.275)">c</text>
<text x="0" y="0" font-size="200" font-weight="bold" fill="#ff8c00" stroke="#ff8c00" stroke-width="15.89" transform="matrix(0.04139 0 0 0.06558 111.425 23.275)">o</text>
<text x="0" y="0" font-size="200" font-weight="bold" fill="#ff8c00" stroke="#ff8c00" stroke-width="16.16" transform="matrix(0.03961 0 0 0.06558 117.925 23.275)">m</text></g>
<text x="11" y="35.3" font-size="6.5" fill="#e08a10" textLength="167" lengthAdjust="spacingAndGlyphs">FREE DOWNLOAD STRATEGIES AND INDICATORS MT4</text>
<text x="0" y="0" font-size="200" font-weight="bold" fill="#6a4a30" stroke="#6a4a30" stroke-width="12.17" transform="matrix(0.08125 0 0 0.13239 505.150 36.185)">С</text>
<text x="0" y="0" font-size="200" font-weight="bold" fill="#6a4a30" stroke="#6a4a30" stroke-width="10.26" transform="matrix(0.10990 0 0 0.14340 519.050 36.450)">к</text>
<text x="0" y="0" font-size="200" font-weight="bold" fill="#6a4a30" stroke="#6a4a30" stroke-width="11.34" transform="matrix(0.09115 0 0 0.13818 532.350 36.174)">а</text>
<text x="0" y="0" font-size="200" font-weight="bold" fill="#6a4a30" stroke="#6a4a30" stroke-width="10.84" transform="matrix(0.09921 0 0 0.14074 545.150 36.169)">л</text>
<text x="0" y="0" font-size="200" font-weight="bold" fill="#6a4a30" stroke="#6a4a30" stroke-width="11.45" transform="matrix(0.08374 0 0 0.14340 560.250 36.450)">ь</text>
<text x="0" y="0" font-size="200" font-weight="bold" fill="#6a4a30" stroke="#6a4a30" stroke-width="10.90" transform="matrix(0.09504 0 0 0.14340 573.250 36.450)">п</text>
<text x="0" y="0" font-size="200" font-weight="bold" fill="#6a4a30" stroke="#6a4a30" stroke-width="10.83" transform="matrix(0.09675 0 0 0.14340 587.050 36.450)">и</text>
<text x="0" y="0" font-size="200" font-weight="bold" fill="#6a4a30" stroke="#6a4a30" stroke-width="10.90" transform="matrix(0.09504 0 0 0.14340 601.350 36.450)">н</text>
<text x="0" y="0" font-size="200" font-weight="bold" fill="#6a4a30" stroke="#6a4a30" stroke-width="11.36" transform="matrix(0.08554 0 0 0.14340 615.150 36.450)">г</text>
<text x="0" y="0" font-size="200" font-weight="bold" fill="#6a4a30" stroke="#6a4a30" stroke-width="11.02" transform="matrix(0.09256 0 0 0.14340 629.150 36.450)">н</text>
<text x="0" y="0" font-size="200" font-weight="bold" fill="#6a4a30" stroke="#6a4a30" stroke-width="10.96" transform="matrix(0.09912 0 0 0.13818 642.150 36.174)">а</text>
<text x="0" y="0" font-size="200" font-weight="bold" fill="#6a4a30" stroke="#6a4a30" stroke-width="11.80" transform="matrix(0.08403 0 0 0.13623 660.850 36.450)">Б</text>
<text x="0" y="0" font-size="200" font-weight="bold" fill="#6a4a30" stroke="#6a4a30" stroke-width="12.50" transform="matrix(0.07564 0 0 0.13239 675.050 36.185)">О</text>
<text x="0" y="0" font-size="200" font-weight="bold" fill="#e6e6fa" stroke="#e6e6fa" stroke-width="12.17" transform="matrix(0.08125 0 0 0.13239 504.450 35.785)">С</text>
<text x="0" y="0" font-size="200" font-weight="bold" fill="#e6e6fa" stroke="#e6e6fa" stroke-width="10.26" transform="matrix(0.10990 0 0 0.14340 518.350 36.050)">к</text>
<text x="0" y="0" font-size="200" font-weight="bold" fill="#e6e6fa" stroke="#e6e6fa" stroke-width="11.34" transform="matrix(0.09115 0 0 0.13818 531.650 35.774)">а</text>
<text x="0" y="0" font-size="200" font-weight="bold" fill="#e6e6fa" stroke="#e6e6fa" stroke-width="10.84" transform="matrix(0.09921 0 0 0.14074 544.450 35.769)">л</text>
<text x="0" y="0" font-size="200" font-weight="bold" fill="#e6e6fa" stroke="#e6e6fa" stroke-width="11.45" transform="matrix(0.08374 0 0 0.14340 559.550 36.050)">ь</text>
<text x="0" y="0" font-size="200" font-weight="bold" fill="#e6e6fa" stroke="#e6e6fa" stroke-width="10.90" transform="matrix(0.09504 0 0 0.14340 572.550 36.050)">п</text>
<text x="0" y="0" font-size="200" font-weight="bold" fill="#e6e6fa" stroke="#e6e6fa" stroke-width="10.83" transform="matrix(0.09675 0 0 0.14340 586.350 36.050)">и</text>
<text x="0" y="0" font-size="200" font-weight="bold" fill="#e6e6fa" stroke="#e6e6fa" stroke-width="10.90" transform="matrix(0.09504 0 0 0.14340 600.650 36.050)">н</text>
<text x="0" y="0" font-size="200" font-weight="bold" fill="#e6e6fa" stroke="#e6e6fa" stroke-width="11.36" transform="matrix(0.08554 0 0 0.14340 614.450 36.050)">г</text>
<text x="0" y="0" font-size="200" font-weight="bold" fill="#e6e6fa" stroke="#e6e6fa" stroke-width="11.02" transform="matrix(0.09256 0 0 0.14340 628.450 36.050)">н</text>
<text x="0" y="0" font-size="200" font-weight="bold" fill="#e6e6fa" stroke="#e6e6fa" stroke-width="10.96" transform="matrix(0.09912 0 0 0.13818 641.450 35.774)">а</text>
<text x="0" y="0" font-size="200" font-weight="bold" fill="#e6e6fa" stroke="#e6e6fa" stroke-width="11.80" transform="matrix(0.08403 0 0 0.13623 660.150 36.050)">Б</text>
<text x="0" y="0" font-size="200" font-weight="bold" fill="#e6e6fa" stroke="#e6e6fa" stroke-width="12.50" transform="matrix(0.07564 0 0 0.13239 674.350 35.785)">О</text>
</svg>
</body></html>
